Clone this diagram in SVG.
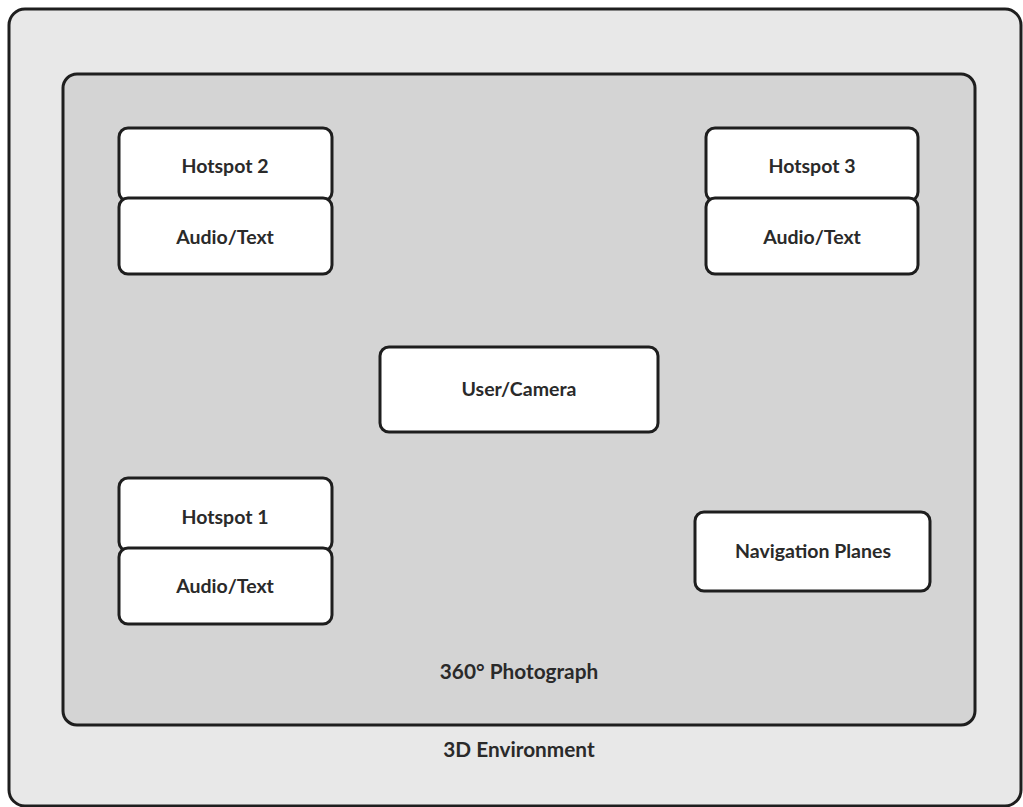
<svg xmlns="http://www.w3.org/2000/svg" width="1023" height="807" viewBox="0 0 1023 807">
<style>
.c{stroke:#1e1e1e;stroke-width:3}
.n{fill:#ffffff}
text{font-family:Lato,"Liberation Sans",sans-serif;font-weight:bold;font-size:19.5px;fill:#2a2a2a;text-anchor:middle;dominant-baseline:central}
text.big{font-size:20.8px}
</style>
<g id="env">
<rect class="c" x="9" y="9" width="1012" height="797" rx="16" fill="#e8e8e8"/>
<text class="big" x="519" y="748">3D Environment</text>
</g>
<g id="photo">
<rect class="c" x="63" y="74" width="912" height="651" rx="14" fill="#d4d4d4"/>
<text class="big" x="519" y="670">360° Photograph</text>
</g>
<g id="hotspot2">
<rect class="c n" x="119" y="128" width="213" height="73" rx="9"/>
<text x="225" y="165">Hotspot 2</text>
</g>
<g id="audio2">
<rect class="c n" x="119" y="198" width="213" height="76" rx="9"/>
<text x="225" y="236">Audio/Text</text>
</g>
<g id="hotspot3">
<rect class="c n" x="706" y="128" width="212" height="73" rx="9"/>
<text x="812" y="165">Hotspot 3</text>
</g>
<g id="audio3">
<rect class="c n" x="706" y="198" width="212" height="76" rx="9"/>
<text x="812" y="236">Audio/Text</text>
</g>
<g id="camera">
<rect class="c n" x="380" y="347" width="278" height="85" rx="9"/>
<text x="519" y="388">User/Camera</text>
</g>
<g id="hotspot1">
<rect class="c n" x="119" y="478" width="213" height="73" rx="9"/>
<text x="225" y="516">Hotspot 1</text>
</g>
<g id="audio1">
<rect class="c n" x="119" y="548" width="213" height="76" rx="9"/>
<text x="225" y="585">Audio/Text</text>
</g>
<g id="nav">
<rect class="c n" x="695" y="512" width="235" height="79" rx="9"/>
<text x="813" y="550">Navigation Planes</text>
</g>
<g id="connectors"></g>
</svg>
